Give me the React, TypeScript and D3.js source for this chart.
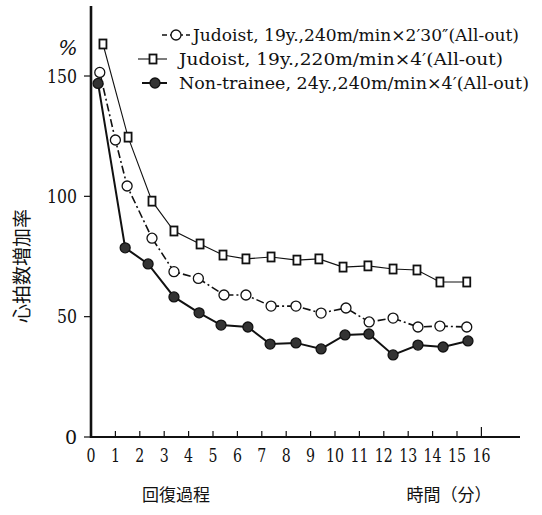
import React from 'react';
import * as d3 from 'd3';

const xTicks = d3.range(0, 17);
const yTicks = [0, 50, 100, 150];

const legendLabels = [
  'Judoist, 19y.,240m/min×2′30″(All-out)',
  'Judoist, 19y.,220m/min×4′(All-out)',
  'Non-trainee, 24y.,240m/min×4′(All-out)',
];

const judo240Times = [0.36, 1.0, 1.48, 2.5, 3.4, 4.4, 5.45, 6.35, 7.38, 8.4, 9.43, 10.45, 11.4, 12.38, 13.4, 14.3, 15.4];
const judo240Values = [151.5, 123.4, 104.3, 82.6, 68.7, 65.9, 59.0, 59.0, 54.4, 54.4, 51.5, 53.6, 47.8, 49.4, 45.7, 46.1, 45.7];

const judo220Times = [0.49, 1.52, 2.5, 3.4, 4.47, 5.41, 6.35, 7.38, 8.44, 9.34, 10.33, 11.35, 12.38, 13.36, 14.3, 15.4];
const judo220Values = [163.3, 124.6, 98.0, 85.6, 80.2, 75.6, 74.0, 74.8, 73.5, 74.0, 70.6, 71.1, 69.8, 69.4, 64.4, 64.4];

const nonTimes = [0.29, 1.4, 2.34, 3.4, 4.43, 5.33, 6.43, 7.34, 8.4, 9.43, 10.41, 11.39, 12.38, 13.4, 14.43, 15.45];
const nonValues = [146.9, 78.6, 71.9, 58.2, 51.6, 46.5, 45.7, 38.6, 39.1, 36.6, 42.4, 42.8, 34.1, 38.2, 37.4, 39.9];

const SERIF = "'DejaVu Serif', serif";
const CJK = "'Noto Sans CJK JP', sans-serif";

export default function App() {
  const x = d3.scaleLinear().domain([0, 16]).range([91, 481.4]);
  const y = d3.scaleLinear().domain([0, 150]).range([437, 76]);
  const line = d3.line<[number, number]>().x(d => x(d[0])).y(d => y(d[1]));

  const s240 = judo240Times.map((t, i) => [t, judo240Values[i]] as [number, number]);
  const s220 = judo220Times.map((t, i) => [t, judo220Values[i]] as [number, number]);
  const sNon = nonTimes.map((t, i) => [t, nonValues[i]] as [number, number]);

  const sqW = 7;
  const sqH = 9;

  return (
    <svg width={542} height={515} style={{ position: 'absolute', left: 0, top: 0, background: '#fff' }}>
      <g fontFamily={SERIF} fill="#111">
        {/* axes */}
        <line x1={x(0)} x2={x(0)} y1={6} y2={y(0) + 1} stroke="#111" strokeWidth={2.6} />
        <line x1={x(0)} x2={520} y1={y(0)} y2={y(0)} stroke="#111" strokeWidth={2.2} />
        {yTicks.map(v => (
          <g key={'yt' + v}>
            <line x1={x(0) - 7} x2={x(0)} y1={y(v)} y2={y(v)} stroke="#111" strokeWidth={1.2} />
            <text x={77} y={y(v)} dy="0.35em" textAnchor="end" fontFamily={SERIF} fontSize={19} textLength={v === 0 ? undefined : (v >= 100 ? 30 : 20)} lengthAdjust="spacingAndGlyphs">{v}</text>
          </g>
        ))}
        {xTicks.map(t => (
          <g key={'xt' + t}>
            {t > 0 && <line x1={x(t)} x2={x(t)} y1={y(0)} y2={y(0) - (t === 16 ? 10 : 6)} stroke="#111" strokeWidth={1.2} />}
            <text x={x(t)} y={455} dy="0.35em" textAnchor="middle" fontFamily={SERIF} fontSize={19} textLength={t >= 10 ? 18 : 9} lengthAdjust="spacingAndGlyphs">{t}</text>
          </g>
        ))}
        <text x={68} y={48} dy="0.35em" textAnchor="middle" fontFamily={SERIF} fontSize={20} fontStyle="italic">%</text>
        <text transform={`translate(22,266) rotate(-90)`} textAnchor="middle" dy="0.35em" fontFamily={CJK} fontSize={19}>心拍数増加率</text>
        <text x={176} y={495} textAnchor="middle" dy="0.35em" fontFamily={CJK} fontSize={17}>回復過程</text>
        <text x={449} y={495} textAnchor="middle" dy="0.35em" fontFamily={CJK} fontSize={17}>時間（分）</text>

        {/* series lines */}
        <path d={line(s220) || ''} fill="none" stroke="#111" strokeWidth={1.1} />
        <path d={line(s240) || ''} fill="none" stroke="#111" strokeWidth={1.6} strokeDasharray="8,3,2,3" />
        <path d={line(sNon) || ''} fill="none" stroke="#111" strokeWidth={2} />

        {/* markers */}
        {s220.map((d, i) => (
          <rect key={'sq' + i} x={x(d[0]) - sqW / 2} y={y(d[1]) - sqH / 2} width={sqW} height={sqH} fill="#fff" stroke="#111" strokeWidth={1.8} />
        ))}
        {s240.map((d, i) => (
          <circle key={'c' + i} cx={x(d[0])} cy={y(d[1])} r={5} fill="#fff" stroke="#111" strokeWidth={1.3} />
        ))}
        {sNon.map((d, i) => (
          <circle key={'f' + i} cx={x(d[0])} cy={y(d[1])} r={5} fill="#333" stroke="#111" strokeWidth={1.3} />
        ))}

        {/* legend */}
        <line x1={162} x2={190} y1={35} y2={35} stroke="#111" strokeWidth={1.4} strokeDasharray="5,3" />
        <circle cx={176} cy={35} r={5} fill="#fff" stroke="#111" strokeWidth={1.3} />
        <text x={193} y={35} dy="0.35em" fontFamily={SERIF} fontSize={17} textLength={326} lengthAdjust="spacingAndGlyphs">{legendLabels[0]}</text>

        <line x1={138} x2={167} y1={59} y2={59} stroke="#111" strokeWidth={1.1} />
        <rect x={153 - sqW / 2} y={59 - sqH / 2} width={sqW} height={sqH} fill="#fff" stroke="#111" strokeWidth={1.8} />
        <text x={179} y={59} dy="0.35em" fontFamily={SERIF} fontSize={17} textLength={324} lengthAdjust="spacingAndGlyphs">{legendLabels[1]}</text>

        <line x1={142} x2={167} y1={83} y2={83} stroke="#111" strokeWidth={2} />
        <circle cx={155} cy={83} r={5} fill="#333" stroke="#111" strokeWidth={1.3} />
        <text x={179} y={83} dy="0.35em" fontFamily={SERIF} fontSize={17} textLength={350} lengthAdjust="spacingAndGlyphs">{legendLabels[2]}</text>
      </g>
    </svg>
  );
}
